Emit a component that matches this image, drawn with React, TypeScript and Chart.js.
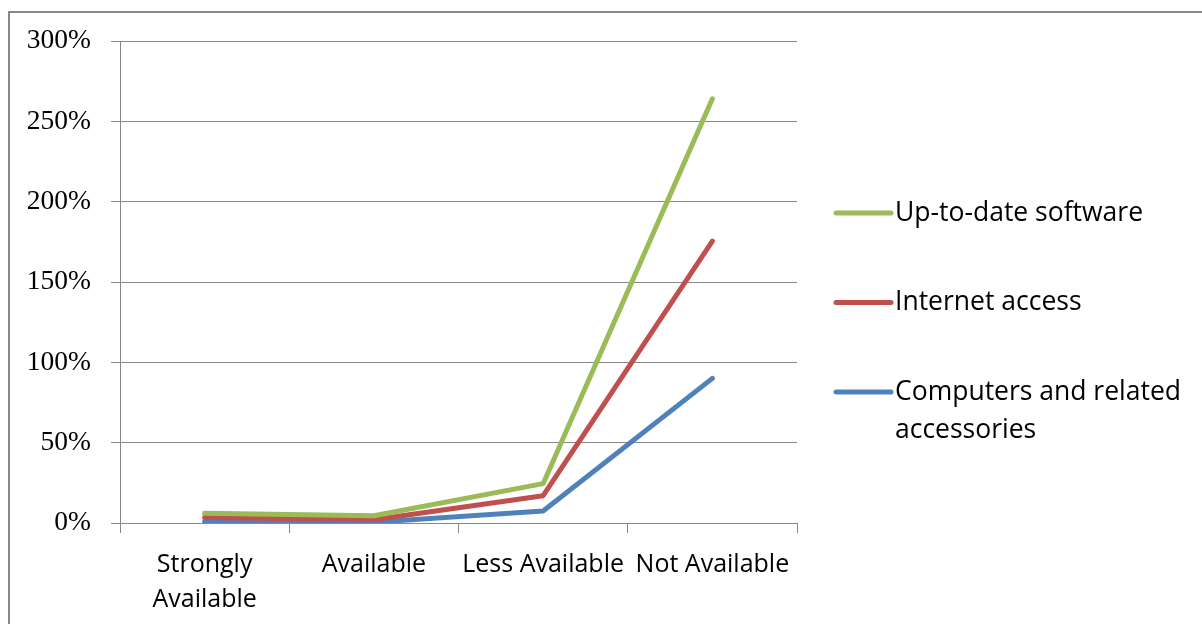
import React, { useEffect, useRef } from "react";
import { Chart, registerables } from "chart.js";

Chart.register(...registerables);

// Availability categories along the x axis (first one wraps onto two lines)
const categories: (string | string[])[] = [
  ["Strongly", "Available"],
  "Available",
  "Less Available",
  "Not Available",
];

// Series values, in percent
const softwareValues = [6, 4.5, 24.5, 264];
const internetValues = [3.5, 2, 17, 175.5];
const computerValues = [1, 0.5, 7.5, 90];

const seriesLabels = ["Up-to-date software", "Internet access", "Computers and related accessories"];
// Legend text as it is broken into lines
const legendLines: string[][] = [
  ["Up-to-date software"],
  ["Internet access"],
  ["Computers and related", "accessories"],
];

const yMin = 0;
const yMax = 300;
const yStep = 50;

const GREEN = "#9BBB59";
const RED = "#C0504D";
const BLUE = "#4F81BD";
const GRID = "#878787";
const SANS = "'Open Sans', 'Noto Sans', sans-serif";
const SERIF = "'Liberation Serif', 'Times New Roman', serif";

// Frame around the figure plus a side legend drawn on the canvas
const framePlugin = {
  id: "frameAndLegend",
  beforeDraw(chart: any) {
    const ctx = chart.ctx;
    ctx.save();
    ctx.strokeStyle = GRID;
    ctx.lineWidth = 2;
    ctx.strokeRect(9, 12, chart.width + 20, chart.height + 20);
    ctx.restore();
  },
  afterDraw(chart: any) {
    const ctx = chart.ctx;
    ctx.save();
    const x0 = 836;
    const lineLen = 55;
    const firstY = 213;
    const gap = 89.5;
    const lineH = 38;
    const colors = [GREEN, RED, BLUE];
    legendLines.forEach((lines, i) => {
      const y = firstY + i * gap;
      ctx.strokeStyle = colors[i];
      ctx.lineWidth = 5;
      ctx.lineCap = "round";
      ctx.beginPath();
      ctx.moveTo(x0, y);
      ctx.lineTo(x0 + lineLen, y);
      ctx.stroke();
      ctx.fillStyle = "#000";
      ctx.font = `26.5px ${SANS}`;
      ctx.textBaseline = "middle";
      ctx.textAlign = "left";
      lines.forEach((t, j) => ctx.fillText(t, x0 + lineLen + 4, y + j * lineH));
    });
    ctx.restore();
  },
};

export default function App() {
  const ref = useRef<HTMLCanvasElement | null>(null);

  useEffect(() => {
    if (!ref.current) return;
    const chart = new Chart(ref.current, {
      type: "line",
      data: {
        labels: categories,
        datasets: [
          {
            label: seriesLabels[2],
            data: computerValues,
            borderColor: BLUE,
            backgroundColor: BLUE,
            borderWidth: 5,
            pointRadius: 0,
            tension: 0,
            borderCapStyle: "round",
            borderJoinStyle: "round",
            order: 2,
          },
          {
            label: seriesLabels[1],
            data: internetValues,
            borderColor: RED,
            backgroundColor: RED,
            borderWidth: 5,
            pointRadius: 0,
            tension: 0,
            borderCapStyle: "round",
            borderJoinStyle: "round",
            order: 1,
          },
          {
            label: seriesLabels[0],
            data: softwareValues,
            borderColor: GREEN,
            backgroundColor: GREEN,
            borderWidth: 5,
            pointRadius: 0,
            tension: 0,
            borderCapStyle: "round",
            borderJoinStyle: "round",
            order: 0,
          },
        ],
      },
      options: {
        animation: false,
        responsive: false,
        layout: { padding: { left: 0, top: 41, right: 405, bottom: 0 } },
        plugins: {
          legend: { display: false },
          tooltip: { enabled: false },
        },
        scales: {
          x: {
            offset: true,
            grid: {
              offset: true,
              drawOnChartArea: false,
              drawTicks: true,
              tickLength: 10,
              color: GRID,
              lineWidth: 1,
            },
            border: { color: GRID, width: 1 },
            ticks: {
              color: "#000",
              font: { family: SANS, size: 25, lineHeight: 1.4 },
              padding: 14,
              maxRotation: 0,
              autoSkip: false,
            },
            afterFit(scale: any) {
              scale.height = 101;
            },
          },
          y: {
            min: yMin,
            max: yMax,
            grid: {
              color: GRID,
              lineWidth: 1,
              drawTicks: true,
              tickLength: 9,
            },
            border: { color: GRID, width: 1 },
            ticks: {
              stepSize: yStep,
              color: "#000",
              font: { family: SERIF, size: 27.5 },
              padding: 20,
              callback: (v: any) => `${v}%`,
            },
            afterFit(scale: any) {
              scale.width = 120;
            },
          },
        },
      },
      plugins: [framePlugin],
    });
    return () => chart.destroy();
  }, []);

  return (
    <div style={{ position: "absolute", left: 0, top: 0, width: 1202, height: 624, background: "#fff" }}>
      <canvas ref={ref} width={1202} height={624} style={{ display: "block" }} />
    </div>
  );
}
